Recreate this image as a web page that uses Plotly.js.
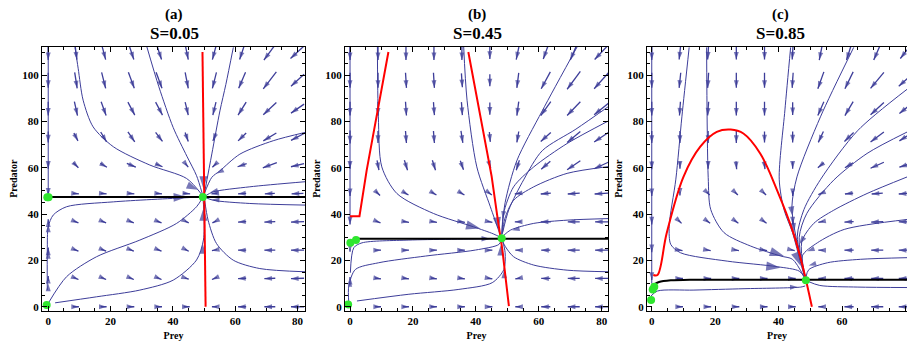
<!DOCTYPE html>
<html><head><meta charset="utf-8">
<script src="https://cdn.plot.ly/plotly-3.0.1.min.js"></script>
<style>html,body{margin:0;padding:0;background:#fff;}#chart{width:907px;height:347px;}</style>
</head><body><div id="chart"></div>
<script>
// ---------- grid of the vector field (arrow centres) ----------
const preyGrid = [0, 8.89, 17.78, 26.67, 35.56, 44.44, 53.33, 62.22, 71.11, 80];
const predGrid = [110, 97.78, 85.56, 73.33, 61.11, 48.89, 36.67, 24.44, 12.22, 0];
const panelTitles = ['(a)', '(b)', '(c)'];
const sValues = ['S=0.05', 'S=0.45', 'S=0.85'];

// arrow vectors (prey units, predator units), rows top -> bottom
const fieldA_U = [
  [0,0.6,1.3,1.6,1.6,1,-1.3,-1.6,-3.8,-4.5],
  [0,0.8,1.3,1.9,1.9,1,-1.3,-2.2,-4.2,-4.2],
  [0,1,1.6,2.2,2.2,1,-1,-2.6,-4.2,-4.2],
  [0,1.3,1.9,2.2,2.2,1,-1,-2.6,-4.2,-4.2],
  [0,1.6,2.1,2.9,2.2,1,-1.3,-2.9,-4.5,-4.2],
  [0,1.9,1.9,1.9,1.9,2.2,-1.9,-2.6,-3.2,-3.8],
  [0,1.6,1.6,1.6,1.6,1.3,-1.3,-2.6,-3.5,-4.2],
  [0,1.6,1.6,1.6,1.6,1.3,-1.6,-2.6,-3.5,-4.2],
  [0,1.6,1.6,1.6,1.6,1.3,-1.6,-2.6,-3.5,-4.2],
  [0,1.9,1.9,1.9,1.9,1.9,-1.6,-2.6,-3.5,-4.2]];
const fieldA_V = [
  [-6.9,-6.5,-6.5,-6.5,-6.5,-6.5,-6.5,-6.5,-6.9,-5.6],
  [-6.5,-6.9,-6.9,-6.9,-6.9,-6.9,-6.9,-6.9,-7.3,-5.2],
  [-6,-6,-6,-5.6,-5.6,-5.6,-5.6,-5.6,-5.2,-3.9],
  [-4.7,-3.4,-4.3,-4.3,-3.9,-3.9,-3.4,-3.4,-3.4,-3],
  [-3,-2.2,-1.7,-1.7,-1.3,-1.7,-1.7,-1.3,-2.2,-1.3],
  [-1.7,-0.2,-0.2,-0.2,-0.2,-0.2,-0.2,-0.2,-0.2,-0.2],
  [2.2,-0.9,-0.9,-0.9,-0.9,-0.9,-0.9,-0.2,-0.2,-0.2],
  [2.2,-0.9,-0.9,-0.9,-0.9,-0.9,-0.4,0,0,0],
  [2.2,-0.9,-0.9,-0.9,-0.9,-0.6,-0.9,-0.2,-0.2,-0.2],
  [0,0,0,0,0,0,0,0,0,0]];

const fieldB_U = [
  [0,0,0,0,0,0,-1,-1.6,-2.2,-4.5],
  [0,0,0.3,0.3,0.3,0,-0.6,-2.9,-4.2,-4.8],
  [0,0,0.3,0.3,0.3,0,-0.6,-3.2,-4.2,-4.8],
  [0,0,0.3,0.3,0.6,0.3,-0.6,-3.2,-4.2,-4.8],
  [0,0.6,1,1,1,0.6,-1,-2.9,-4.2,-4.8],
  [0,1.3,1.6,1.6,1.6,1.3,-1.9,-3.2,-3.8,-4.5],
  [0,1.6,1.9,1.9,1.9,1.6,-1.9,-3.2,-3.8,-4.2],
  [0,1.9,1.9,1.9,1.9,1.6,-1.6,-2.9,-3.8,-4.2],
  [0,1.9,1.9,1.9,1.9,1.6,-1.6,-2.9,-3.8,-4.2],
  [0,1.9,1.9,1.9,1.9,1.6,-1.6,-2.9,-3.8,-4.2]];
const fieldB_V = [
  [-6.9,-6.9,-6.9,-6.9,-6.9,-6,-6.5,-6,-6.9,-6.5],
  [-6.5,-6.5,-6.5,-6.5,-6,-5.2,-6.5,-7.3,-7.7,-7.3],
  [-6,-6,-6,-5.6,-5.6,-5.2,-6,-6,-6,-5.2],
  [-5.6,-5.2,-5.2,-5.2,-5.2,-4.3,-4.7,-3.9,-4.7,-4.3],
  [-3,-4.3,-4.3,-4.3,-3.9,-2.6,-4.3,-3.4,-3.9,-3],
  [-2.2,-1.7,-1.3,-1.3,-1.3,-1.3,-0.4,-0.4,-0.4,-0.4],
  [-2.2,-0.9,-0.4,-0.4,-0.4,-0.4,0,0,0,0],
  [-1.3,0,0,0,0,0,0,0,0,0],
  [1.3,-0.4,-0.4,-0.4,-0.4,-0.4,-0.4,0,0,0],
  [0,0,0,0,0,0,0,0,0,0]];

const fieldC_U = [
  [0,-0.5,-0.3,0,0,-0.3,-1,-1.6,-2.2,-3.2],
  [0,-0.5,-0.3,0,0,-0.3,-1.9,-2.6,-4.2,-4.2],
  [0,-0.3,-0.3,0,0,0,-1.9,-2.6,-4.2,-3.8],
  [0,0,0,0,0,0,-1.6,-2.9,-4.2,-3.8],
  [0,0,0,0.2,0.3,0,-1.9,-2.6,-4.2,-3.8],
  [0,0,1,1,1,0,-1.6,-2.6,-3.5,-4.2],
  [0,1,1.3,1.3,1.3,0,-1.6,-2.9,-3.8,-4.2],
  [0,1.6,1.6,1.6,1.6,1.3,-1.6,-2.9,-3.8,-4.2],
  [0,1.9,1.9,1.9,1.9,1.9,-1.6,-2.9,-3.8,-4.2],
  [0,1.9,1.9,1.9,1.9,1.9,-1.6,-2.9,-3.8,-4.2]];
const fieldC_V = [
  [-6.9,-6.5,-6.5,-6.5,-6.5,-6.5,-6.9,-6.9,-6.9,-5.6],
  [-6.5,-6.5,-6.5,-6.5,-6.5,-6.5,-7.3,-7.3,-6.9,-5.2],
  [-6,-6,-6,-6,-6,-5.6,-6,-6,-5.2,-4.3],
  [-5.2,-5.2,-5.2,-5.2,-4.7,-4.7,-4.7,-3.9,-4.3,-3.4],
  [-3.4,-3,-3,-3.4,-3.4,-3,-2.2,-2.2,-2.6,-1.7],
  [-2.2,-1.7,-1.3,-1.3,-1.3,-2.2,-0.9,-0.4,-0.4,-0.4],
  [-2.2,-1.3,-1.3,-1.3,-1.3,-2.2,-0.4,-0.2,-0.2,0],
  [-1.7,-0.4,-0.4,-0.4,-0.4,-0.4,0,0,0,0],
  [-1.3,0,0,0,0,0,0,0,0,0],
  [0,0,0,0,0,0,0,0,0,0]];

// ---------- stream lines [prey[], predator[]] ----------
const streamsA = [
  [[8.6,9.6,11.2,14.4,20.9,32.6,44.4,49.3],[112,103,89.2,77.7,69.1,61.2,55.4,48.4]],
  [[31.6,35.5,40.1,44.5,47.6,49.4],[112.5,95,77.4,65,56.6,49]],
  [[59.4,57,55.1,52.5,50.2],[112,96,84.6,66,49.5]],
  [[82.5,72.2,61.5,55.1,52.5,50],[75.3,71.7,65.9,58.7,55.9,48.5]],
  [[82.5,64.7,52.9,50.3],[54,51.8,49.6,47.8]],
  [[82.5,64.7,52.9,50.3],[43.9,44.6,46,47.3]],
  [[82.5,67.9,59.4,54,51.3,50.2],[15.1,16.5,20.1,27.3,37.4,46]],
  [[0,5.9,15.5,29.4,41.2,47.6,49.5],[1.5,13,21.6,28.8,36,43.2,47]],
  [[-0.3,-0.3,0,1.6,5.9,20.9,44.4,49.3],[7.2,24.5,34.5,39.6,43.2,45.3,47.1,47.4]],
  [[2.2,15.5,29.4,40.1,47.6,49.8,50,49.7],[1.7,4.3,7.2,11.5,20.2,28.8,38.9,46.5]],
  [[0,0],[113,49]]];
const streamsB = [
  [[8.7,9,10.1,14.9,26.5,39.3,45.5,47.8],[113,82,60.4,48.9,40.3,34.5,31.5,30]],
  [[36.1,37.2,40.3,44.6,47.2,48],[113,89.2,60.4,43.2,33.1,30]],
  [[72.5,61.1,53,49.3,48.2],[113,84.6,63,45,31]],
  [[82.5,71.8,61.1,55.3,50.5,48.5],[86.8,76.7,67.4,55.1,42,32]],
  [[82.5,69,58.4,52,48.8,48.3],[80.5,70.5,60.4,51.8,40.3,31.5]],
  [[82.5,69,58.4,52,49.2,48.4],[60.6,57.6,51.8,46,38,31.5]],
  [[82.5,69,58.4,51,48.6],[38.1,37.4,36,33.1,30.5]],
  [[82.5,69,58.4,52,49.4,48.3],[15.1,15.8,18,21.6,25.9,28.8]],
  [[-0.4,-0.4,1.7,9.1,24,39.9,47.3,48.1],[1.7,8.9,16.1,19,21.9,24.5,26.9,29]],
  [[0.1,1.2,3.8,18.7,44.2,48.1],[14.7,25.5,27.6,28.8,29.4,29.6]],
  [[2.2,18.7,34.6,45.2,48.9,49.3,48.5],[2.5,5.4,7.5,10.4,16.1,23.3,28.5]],
  [[0,0],[113,37]]];
const streamsC = [
  [[11.8,9.5,7.6,5.5,6,9.1,23.8,39.6,46.5,48.3],[112,82,55.1,34.8,26.9,23.3,19.7,17.3,15.4,12.5]],
  [[17.3,17.8,18.6,22.8,31.2,40.7,44.4,48.2],[112,55.9,42,32,26.2,21.9,20.5,12.5]],
  [[43.8,42,40.2,41.7,44.4,47,48.3],[112,85,55.1,42,32,18.7,12.5]],
  [[63.7,53.2,45.8,44.2,45.5,47.5,48.5],[112,82,56.1,43.2,30,18,12.5]],
  [[80.6,64.9,53.3,48,45.9,47.5,48.5],[94,76,55.1,42,30.5,18,12.5]],
  [[80.6,67.9,57.4,48.9,46.5,48],[75.5,66.2,54.7,40.3,30,14]],
  [[80.6,67.9,57.4,51.1,47.3,48.2],[56.1,48.9,41.7,36,28,14]],
  [[80.6,60.7,52.2,47.5,48.3],[37.7,33.4,27.6,22,13]],
  [[80.6,65.9,55.4,49.5,48.6],[21.2,20.5,19,16,12.5]],
  [[-0.3,1.8,13.3,29.1,47,48.4],[4.6,6.8,7.2,7.8,8.5,9]],
  [[80.6,65,53,49.2],[8.3,8.5,9.2,11]],
  [[0,0],[113,10]]];

// stream-line arrow heads: prey, predator, direction (prey, predator), size
const headsA_x = [44.5, 48, 49.8, 49.8, 49.6, 52, 52.5, 0, 0, 0, 54];
const headsA_y = [47.4, 50.5, 51, 42.5, 27, 49.5, 46.3, 10, 24, 35.5, 57.5];
const headsA_u = [1, 1, 0, 0, 0, -1, -1, 0, 0, 0, -1];
const headsA_v = [0.03, -0.6, -1, 1, 1, -0.3, 0.1, 1, 1, 1, -0.7];
const headsA_s = [14, 12, 13, 13, 10, 8, 8, 8, 8, 8, 8];
const headsB_x = [41.4, 47.2, 47.9, 44.5, 49, 51.5, 0, 48.5];
const headsB_y = [33.8, 33.3, 26.6, 29.4, 16, 33, 11.5, 38];
const headsB_u = [1, 0.1, 0, 1, 0, -1, 0, -0.1];
const headsB_v = [-0.35, -1, 1, 0, 1, -0.3, 1, -1];
const headsB_s = [15, 13, 11, 9, 9, 8, 7, 8];
const headsC_x = [40.6, 41.7, 44.4, 44.9, 47, 49.5, 46, 49, 46.5];
const headsC_y = [16.8, 21.9, 39.2, 32, 17.6, 17.8, 8.5, 24, 27];
const headsC_u = [1, 1, 0.1, 0.1, 0.3, -1, 1, -1, -0.5];
const headsC_v = [-0.15, -0.45, -1, -1, -1, -0.4, 0.03, -0.5, -1];
const headsC_s = [15, 15, 10, 10, 15, 8, 8, 8, 9];

// nullclines and equilibria
const redA = [[[49.5, 50.5], [110, 0]]];
const redB = [[[0, 3, 5.3, 8, 10.6, 12.2], [39.1, 39.1, 59, 79.1, 99.3, 110]],
              [[37.6, 41, 45, 46.8, 48.4, 50.5], [110, 84.6, 56.4, 39.2, 24.8, 0.3]]];
const redC = [[[0.5, 1.8, 4.7, 10, 15.3, 20.5, 24.9, 28.9, 34.2, 39.5, 44.7, 47.9, 50.5],
               [13.7, 13.7, 31.7, 56.1, 69.1, 75.5, 76.5, 74.8, 66.2, 50.4, 31.7, 15.8, 0]]];
const blackA = [[-0.3, 83], [47.4, 47.4]];
const blackB = [[1.9, 83], [29.4, 29.4]];
const blackC = [[0.7, 2.3, 6, 12, 83], [9.7, 10.7, 11.4, 11.7, 11.7]];
const greenA = [[-0.3, 0.1, 49.6, -0.5], [47.3, 47.3, 47.4, 0.8]];
const greenB = [[0.1, 1.9, 48.2, -0.6], [27.6, 28.8, 29.6, 1]];
const greenC = [[0.3, 0.8, -0.2, 48.6], [7.5, 8.6, 2.9, 11.5]];

// ---------- drawing ----------
const BLUE = '#3d3d99';
const SERIF = '"Liberation Serif", "Times New Roman", serif';
const traces = [];

function gridArrows(U, V, xa, ya) {
  const xs = [], ys = [], sz = [];
  for (let r = 0; r < predGrid.length; r++) {
    for (let c = 0; c < preyGrid.length; c++) {
      const u = U[r][c], v = V[r][c];
      if (u === 0 && v === 0) continue;
      xs.push(preyGrid[c] - u / 2, preyGrid[c] + u / 2, null);
      ys.push(predGrid[r] - v / 2, predGrid[r] + v / 2, null);
      sz.push(0, 8, 0);
    }
  }
  traces.push({type: 'scatter', mode: 'lines+markers', x: xs, y: ys, xaxis: xa, yaxis: ya,
    line: {color: BLUE, width: 1.3, backoff: 0},
    marker: {symbol: 'arrow', size: sz, color: BLUE, angleref: 'previous', line: {width: 0}},
    hoverinfo: 'skip', showlegend: false});
}
function streams(list, xa, ya) {
  list.forEach(s => traces.push({type: 'scatter', mode: 'lines', x: s[0], y: s[1], xaxis: xa, yaxis: ya,
    line: {color: BLUE, width: 1, shape: 'spline', smoothing: 0.8}, hoverinfo: 'skip', showlegend: false}));
}
function heads(hx, hy, hu, hv, hs, xa, ya) {
  const xs = [], ys = [], sz = [];
  for (let i = 0; i < hx.length; i++) {
    xs.push(hx[i] - hu[i] * 0.3, hx[i], null);
    ys.push(hy[i] - hv[i] * 0.3, hy[i], null);
    sz.push(0, hs[i], 0);
  }
  traces.push({type: 'scatter', mode: 'markers', x: xs, y: ys, xaxis: xa, yaxis: ya,
    marker: {symbol: 'arrow', size: sz, color: BLUE, angleref: 'previous', line: {width: 0}},
    hoverinfo: 'skip', showlegend: false});
}
function reds(list, xa, ya, spline) {
  list.forEach(s => traces.push({type: 'scatter', mode: 'lines', x: s[0], y: s[1], xaxis: xa, yaxis: ya,
    line: {color: '#ff0000', width: 2, shape: spline ? 'spline' : 'linear'}, hoverinfo: 'skip', showlegend: false}));
}
function black(b, xa, ya) {
  traces.push({type: 'scatter', mode: 'lines', x: b[0], y: b[1], xaxis: xa, yaxis: ya,
    line: {color: '#000', width: 2, shape: 'spline', smoothing: 0.6}, hoverinfo: 'skip', showlegend: false});
}
function green(g, xa, ya) {
  traces.push({type: 'scatter', mode: 'markers', x: g[0], y: g[1], xaxis: xa, yaxis: ya,
    marker: {color: '#2fe62f', size: 8, line: {width: 0}}, hoverinfo: 'skip', showlegend: false});
}

gridArrows(fieldA_U, fieldA_V, 'x', 'y');
gridArrows(fieldB_U, fieldB_V, 'x2', 'y2');
gridArrows(fieldC_U, fieldC_V, 'x3', 'y3');
streams(streamsA, 'x', 'y'); streams(streamsB, 'x2', 'y2'); streams(streamsC, 'x3', 'y3');
heads(headsA_x, headsA_y, headsA_u, headsA_v, headsA_s, 'x', 'y');
heads(headsB_x, headsB_y, headsB_u, headsB_v, headsB_s, 'x2', 'y2');
heads(headsC_x, headsC_y, headsC_u, headsC_v, headsC_s, 'x3', 'y3');
reds(redA, 'x', 'y', false); reds(redB, 'x2', 'y2', false); reds(redC, 'x3', 'y3', true);
black(blackA, 'x', 'y'); black(blackB, 'x2', 'y2'); black(blackC, 'x3', 'y3');
green(greenA, 'x', 'y'); green(greenB, 'x2', 'y2'); green(greenC, 'x3', 'y3');

const W = 907, H = 347;
const tickFont = {family: SERIF, size: 11, color: '#000', weight: 'bold'};
const titleFont = {family: SERIF, size: 10, color: '#000', weight: 'bold'};
function xAxis(l, r, range, a) {
  return {domain: [l / W, r / W], range: range, anchor: a, showgrid: false, zeroline: false,
    showline: true, linecolor: '#000', linewidth: 1, mirror: 'ticks', ticks: 'inside', ticklen: 5,
    tickcolor: '#000', tick0: 0, dtick: 20, tickfont: tickFont,
    minor: {dtick: 5, ticks: 'inside', ticklen: 3, tickcolor: '#000'},
    title: {text: 'Prey', font: titleFont, standoff: 6}};
}
function yAxis(a, mirror) {
  return {domain: [1 - 310.7 / H, 1 - 46.7 / H], range: [-1.7, 112.3], anchor: a, showgrid: false, zeroline: false,
    showline: true, linecolor: '#000', linewidth: 1, mirror: mirror, ticks: 'inside', ticklen: 5,
    tickcolor: '#000', tick0: 0, dtick: 20, tickfont: tickFont,
    minor: {dtick: 5, ticks: 'inside', ticklen: 3, tickcolor: '#000'},
    title: {text: 'Predator', font: titleFont, standoff: 2}};
}
const centers = [174, 477, 780];
const annotations = [];
for (let i = 0; i < 3; i++) {
  annotations.push({xref: 'paper', yref: 'paper', x: centers[i] / W, y: 1 - 14 / H, text: panelTitles[i],
    showarrow: false, xanchor: 'center', yanchor: 'middle', font: {family: SERIF, size: 15, color: '#000', weight: 'bold'}});
  annotations.push({xref: 'paper', yref: 'paper', x: centers[i] / W, y: 1 - 33 / H, text: sValues[i],
    showarrow: false, xanchor: 'center', yanchor: 'middle', font: {family: SERIF, size: 17, color: '#000', weight: 'bold'}});
}
const layout = {
  width: W, height: H, margin: {l: 0, r: 0, t: 0, b: 0}, paper_bgcolor: '#fff', plot_bgcolor: '#fff',
  showlegend: false,
  xaxis: xAxis(42, 305, [-2, 82.4], 'y'),
  xaxis2: xAxis(345, 608, [-1.6, 82], 'y2'),
  xaxis3: xAxis(647, 907, [-1.5, 80.5], 'y3'),
  yaxis: yAxis('x', 'ticks'), yaxis2: yAxis('x2', 'ticks'), yaxis3: yAxis('x3', false),
  annotations: annotations
};
Plotly.newPlot('chart', traces, layout, {displayModeBar: false, staticPlot: true});
</script></body></html>
